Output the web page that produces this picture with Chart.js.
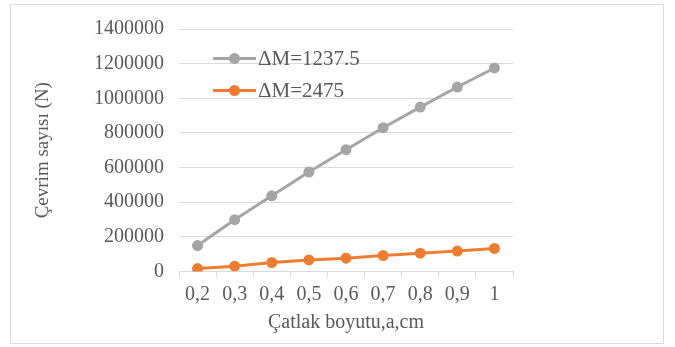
<!DOCTYPE html>
<html>
<head>
<meta charset="utf-8">
<script src="https://cdn.jsdelivr.net/npm/chart.js@4.4.1/dist/chart.umd.min.js"></script>
<style>
  html, body { margin: 0; padding: 0; background: #fff; }
  #wrap { position: relative; width: 675px; height: 347px; }
  #frame { position: absolute; left: 10px; top: 4px; width: 654px; height: 340px; border: 1px solid #d9d9d9; box-sizing: border-box; pointer-events: none; }
</style>
</head>
<body>
<div id="wrap">
  <canvas id="chart" width="675" height="347"></canvas>
  <div id="frame"></div>
</div>
<script>
// Veriler
const crackSizes = ['0,2', '0,3', '0,4', '0,5', '0,6', '0,7', '0,8', '0,9', '1'];
const cyclesDM1237 = [150000, 299000, 437000, 574000, 703000, 830000, 949000, 1065000, 1175000];
const cyclesDM2475 = [17000, 31000, 52000, 67000, 77000, 92000, 106000, 118000, 133000];
const seriesLabels = ['\u0394M=1237.5', '\u0394M=2475'];
const yTicks = [0, 200000, 400000, 600000, 800000, 1000000, 1200000, 1400000];

const FONT = "'Liberation Serif', 'Times New Roman', serif";
const TEXT = '#595959';

// Legend drawn inside the plot area, top-left (like the Excel original)
const innerLegend = {
  id: 'innerLegend',
  afterDraw(chart) {
    const c = chart.ctx;
    const rows = [58.5, 90.5];
    chart.data.datasets.forEach((ds, i) => {
      const y = rows[i];
      c.save();
      c.strokeStyle = ds.borderColor;
      c.lineWidth = 3;
      c.beginPath();
      c.moveTo(213, y);
      c.lineTo(256, y);
      c.stroke();
      c.fillStyle = ds.borderColor;
      c.beginPath();
      c.arc(234.5, y, 5.5, 0, Math.PI * 2);
      c.fill();
      c.fillStyle = TEXT;
      c.font = '21px ' + FONT;
      c.textBaseline = 'middle';
      c.fillText(ds.label, 258, y + 1);
      c.restore();
    });
  }
};

const ctx = document.getElementById('chart').getContext('2d');
new Chart(ctx, {
  type: 'line',
  data: {
    labels: crackSizes,
    datasets: [{
      label: seriesLabels[0],
      data: cyclesDM1237,
      borderColor: '#a5a5a5',
      backgroundColor: '#a5a5a5',
      borderWidth: 3,
      pointRadius: 5.5,
      pointBorderWidth: 0
    }, {
      label: seriesLabels[1],
      data: cyclesDM2475,
      borderColor: '#ed7d31',
      backgroundColor: '#ed7d31',
      borderWidth: 3,
      pointRadius: 5.5,
      pointBorderWidth: 0
    }]
  },
  options: {
    responsive: false,
    animation: false,
    layout: { padding: { left: 32, right: 162, top: 29, bottom: 12 } },
    plugins: {
      legend: { display: false },
      tooltip: { enabled: false }
    },
    scales: {
      x: {
        offset: true,
        grid: {
          offset: true,
          drawOnChartArea: false,
          tickLength: 6,
          color: '#d9d9d9'
        },
        border: { color: '#d9d9d9' },
        ticks: { color: TEXT, font: { family: FONT, size: 20 }, padding: 5, maxRotation: 0 },
        title: {
          display: true,
          text: '\u00c7atlak boyutu,a,cm',
          color: TEXT,
          font: { family: FONT, size: 20 },
          padding: { top: 4, bottom: 0 }
        },
        afterFit(scale) { scale.height = 347 - 271.5 - 12; }
      },
      y: {
        min: 0,
        max: 1400000,
        afterBuildTicks(scale) { scale.ticks = yTicks.map(v => ({ value: v })); },
        grid: { color: '#d9d9d9', drawTicks: false },
        border: { display: false },
        ticks: {
          color: TEXT,
          font: { family: FONT, size: 20 },
          padding: 15,
          callback: v => String(v)
        },
        title: {
          display: true,
          text: '\u00c7evrim say\u0131s\u0131 (N)',
          color: TEXT,
          font: { family: FONT, size: 19 },
          padding: { top: 0, bottom: 0 }
        },
        afterFit(scale) { scale.width = 179 - 32; }
      }
    }
  },
  plugins: [innerLegend]
});
</script>
</body>
</html>
